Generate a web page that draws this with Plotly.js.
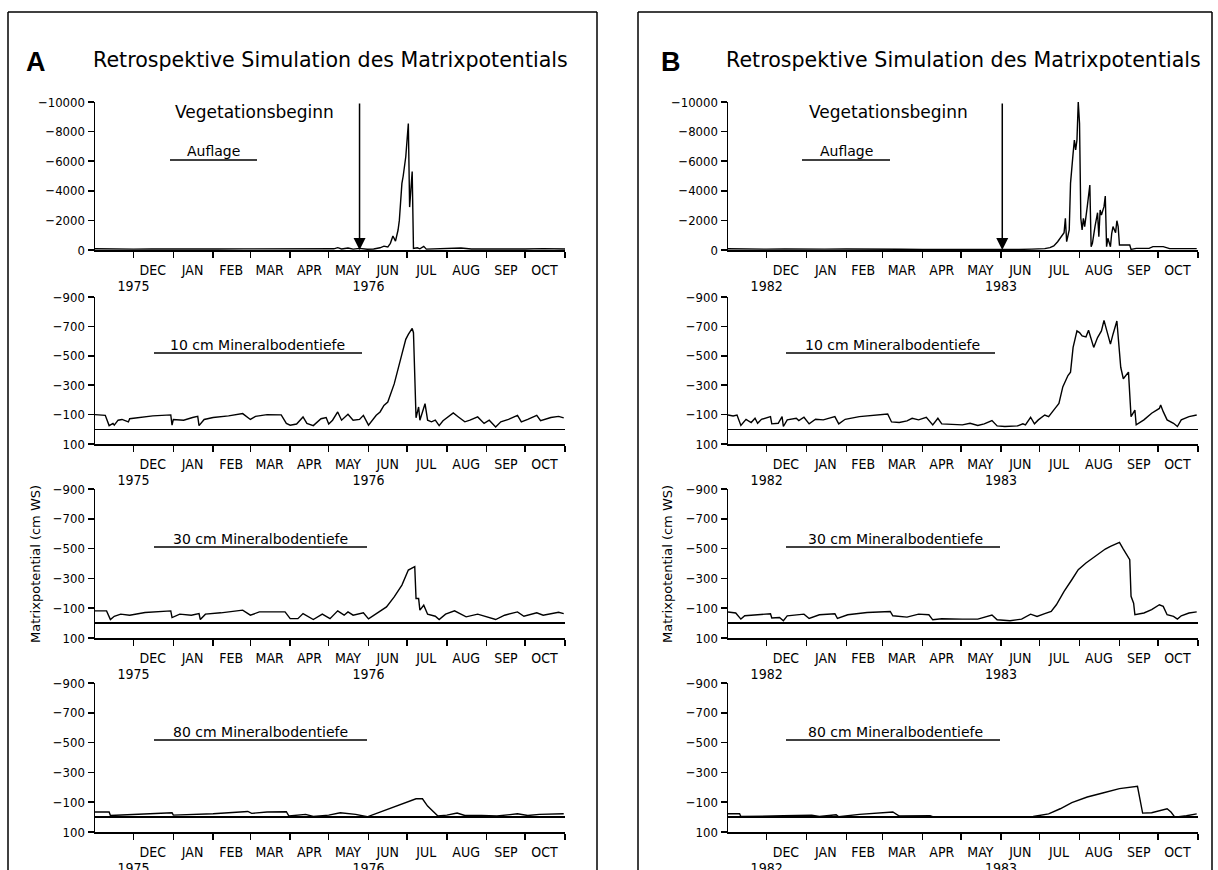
<!DOCTYPE html>
<html><head><meta charset="utf-8">
<script src="https://cdn.plot.ly/plotly-3.0.1.min.js"></script>
<style>html,body{margin:0;padding:0;background:#fff}#chart{width:1218px;height:870px}</style>
</head><body><div id="chart"></div>
<script>
// ---------------- DATA ----------------
const mainTitle = 'Retrospektive Simulation des Matrixpotentials';
const panelLetters = ['A', 'B'];
const depthLabels = ['Auflage', '10 cm Mineralbodentiefe', '30 cm Mineralbodentiefe', '80 cm Mineralbodentiefe'];
const arrowLabel = 'Vegetationsbeginn';
const yTitle = 'Matrixpotential (cm WS)';
const monthLabels = ['DEC','JAN','FEB','MAR','APR','MAY','JUN','JUL','AUG','SEP','OCT'];

const rangeA = ['1975-11-01', '1976-11-01'];
const rangeB = ['1982-11-01', '1983-11-01'];
const monthStartsA = ['1975-12-01','1976-01-01','1976-02-01','1976-03-01','1976-04-01','1976-05-01','1976-06-01','1976-07-01','1976-08-01','1976-09-01','1976-10-01','1976-11-01'];
const monthMidsA = ['1975-12-16','1976-01-16','1976-02-15','1976-03-16','1976-04-16','1976-05-16','1976-06-16','1976-07-16','1976-08-16','1976-09-16','1976-10-16'];
const monthStartsB = ['1982-12-01','1983-01-01','1983-02-01','1983-03-01','1983-04-01','1983-05-01','1983-06-01','1983-07-01','1983-08-01','1983-09-01','1983-10-01','1983-11-01'];
const monthMidsB = ['1982-12-16','1983-01-16','1983-02-14','1983-03-16','1983-04-16','1983-05-16','1983-06-16','1983-07-16','1983-08-16','1983-09-16','1983-10-16'];
const yearTickA = ['1975-12-01', '1976-06-01'];
const yearLabelA = ['1975', '1976'];
const yearTickB = ['1982-12-01', '1983-06-01'];
const yearLabelB = ['1982', '1983'];
const vegStartA = '1976-05-25';
const vegStartB = '1983-06-02';

const yTicksTop = [-10000, -8000, -6000, -4000, -2000, 0];
const yTicksSoil = [-900, -700, -500, -300, -100, 100];

// Panel A, Auflage
const datesA0 = ['1975-11-01','1975-11-12','1975-11-20','1975-12-01','1975-12-15','1976-01-01','1976-01-20','1976-02-05','1976-02-25','1976-03-10','1976-03-28','1976-04-05','1976-04-15','1976-04-25','1976-05-05','1976-05-08','1976-05-11','1976-05-16','1976-05-20','1976-05-25','1976-05-31','1976-06-05','1976-06-10','1976-06-13','1976-06-16','1976-06-18','1976-06-20','1976-06-22','1976-06-24','1976-06-25','1976-06-27','1976-06-28','1976-06-30','1976-07-02','1976-07-03','1976-07-04','1976-07-05','1976-07-06','1976-07-09','1976-07-11','1976-07-14','1976-07-16','1976-07-25','1976-08-05','1976-08-12','1976-08-20','1976-09-01','1976-09-15','1976-10-01','1976-10-15','1976-11-01'];
const valsA0 = [-80,-60,-70,-60,-70,-55,-60,-65,-75,-70,-60,-40,-60,-45,-80,-160,-70,-130,-60,-110,-50,-70,-150,-260,-200,-450,-950,-600,-1350,-2000,-4500,-5000,-6300,-8550,-2900,-4100,-5300,-100,-150,-80,-250,-60,-70,-90,-140,-70,-60,-80,-70,-90,-70];
// Panel A, 10 cm
const datesA1 = ['1975-11-01','1975-11-09','1975-11-12','1975-11-15','1975-11-16','1975-11-19','1975-11-22','1975-11-27','1975-11-28','1975-12-04','1975-12-16','1975-12-30','1975-12-31','1976-01-01','1976-01-09','1976-01-16','1976-01-20','1976-01-21','1976-01-25','1976-02-01','1976-02-13','1976-02-24','1976-03-01','1976-03-05','1976-03-14','1976-03-25','1976-03-29','1976-04-01','1976-04-06','1976-04-11','1976-04-14','1976-04-19','1976-04-25','1976-04-29','1976-05-01','1976-05-04','1976-05-08','1976-05-11','1976-05-16','1976-05-20','1976-05-25','1976-05-28','1976-06-01','1976-06-07','1976-06-10','1976-06-13','1976-06-16','1976-06-21','1976-06-24','1976-06-27','1976-06-30','1976-07-02','1976-07-05','1976-07-06','1976-07-08','1976-07-10','1976-07-11','1976-07-15','1976-07-17','1976-07-20','1976-07-23','1976-07-26','1976-07-29','1976-08-06','1976-08-10','1976-08-15','1976-08-19','1976-08-25','1976-08-30','1976-09-03','1976-09-08','1976-09-12','1976-09-18','1976-09-25','1976-09-28','1976-10-03','1976-10-10','1976-10-13','1976-10-21','1976-10-27','1976-10-31'];
const valsA1 = [-100,-95,-25,-40,-28,-62,-67,-50,-72,-80,-91,-98,-28,-67,-62,-80,-88,-25,-67,-80,-91,-107,-67,-88,-100,-98,-40,-28,-36,-84,-40,-25,-72,-80,-36,-62,-118,-62,-102,-62,-67,-95,-28,-95,-118,-163,-185,-309,-421,-511,-612,-646,-686,-657,-78,-152,-62,-174,-62,-51,-62,-25,-58,-111,-84,-51,-62,-84,-40,-62,-16,-51,-67,-95,-51,-67,-95,-58,-80,-88,-78];
// Panel A, 30 cm
const datesA2 = ['1975-11-01','1975-11-10','1975-11-13','1975-11-16','1975-11-21','1975-11-28','1975-12-10','1975-12-30','1975-12-31','1976-01-06','1976-01-15','1976-01-21','1976-01-22','1976-01-26','1976-02-07','1976-02-24','1976-03-01','1976-03-08','1976-03-28','1976-04-01','1976-04-07','1976-04-11','1976-04-19','1976-04-26','1976-05-02','1976-05-08','1976-05-13','1976-05-16','1976-05-20','1976-05-28','1976-06-01','1976-06-09','1976-06-15','1976-06-21','1976-06-27','1976-07-02','1976-07-07','1976-07-08','1976-07-10','1976-07-11','1976-07-14','1976-07-17','1976-07-23','1976-07-26','1976-07-31','1976-08-07','1976-08-16','1976-08-25','1976-08-31','1976-09-08','1976-09-15','1976-09-25','1976-09-30','1976-10-10','1976-10-15','1976-10-27','1976-10-31'];
const valsA2 = [-82,-82,-24,-46,-60,-53,-71,-82,-37,-60,-53,-64,-24,-60,-69,-87,-53,-75,-75,-30,-30,-64,-24,-60,-30,-82,-53,-75,-53,-69,-28,-75,-109,-176,-255,-356,-379,-165,-165,-87,-120,-60,-46,-24,-60,-82,-42,-60,-46,-24,-53,-75,-46,-69,-53,-73,-64];
// Panel A, 80 cm
const datesA3 = ['1975-11-01','1975-11-12','1975-11-13','1975-12-01','1975-12-16','1975-12-31','1976-01-01','1976-01-21','1976-02-01','1976-02-28','1976-03-02','1976-03-14','1976-03-29','1976-03-31','1976-04-13','1976-04-19','1976-05-01','1976-05-10','1976-05-22','1976-05-31','1976-06-12','1976-06-27','1976-07-08','1976-07-13','1976-07-17','1976-07-25','1976-08-01','1976-08-09','1976-08-15','1976-08-28','1976-09-09','1976-09-25','1976-10-03','1976-10-12','1976-10-21','1976-10-31'];
const valsA3 = [-34,-34,-11,-18,-25,-29,-13,-16,-22,-38,-25,-34,-36,-7,-18,-4,-13,-29,-18,-2,-40,-85,-123,-123,-74,-7,-13,-27,-11,-11,-7,-22,-11,-18,-22,-22];

// Panel B, Auflage
const datesB0 = ['1982-11-01','1982-11-10','1982-11-20','1982-12-01','1982-12-15','1983-01-01','1983-01-15','1983-02-01','1983-02-15','1983-03-05','1983-03-15','1983-04-01','1983-04-15','1983-05-01','1983-05-20','1983-05-30','1983-06-05','1983-06-15','1983-06-25','1983-07-05','1983-07-09','1983-07-12','1983-07-15','1983-07-18','1983-07-19','1983-07-20','1983-07-21','1983-07-22','1983-07-24','1983-07-25','1983-07-27','1983-07-28','1983-07-29','1983-07-30','1983-07-31','1983-08-01','1983-08-02','1983-08-03','1983-08-04','1983-08-05','1983-08-07','1983-08-09','1983-08-10','1983-08-11','1983-08-13','1983-08-15','1983-08-16','1983-08-17','1983-08-18','1983-08-20','1983-08-21','1983-08-22','1983-08-23','1983-08-25','1983-08-26','1983-08-27','1983-08-29','1983-08-30','1983-08-31','1983-09-01','1983-09-02','1983-09-06','1983-09-09','1983-09-10','1983-09-14','1983-09-24','1983-09-27','1983-10-05','1983-10-10','1983-10-31'];
const valsB0 = [-80,-60,-75,-60,-70,-50,-60,-65,-75,-80,-50,-40,-35,-25,-20,-50,-20,-40,-60,-90,-160,-270,-560,-950,-1080,-1170,-2140,-560,-1350,-4500,-6530,-7430,-6760,-7430,-10000,-8560,-2140,-1350,-2140,-1580,-2930,-4390,-225,-450,-1580,-2520,-900,-2700,-2360,-2930,-3650,-225,-790,-225,-1130,-1580,-1170,-1980,-1580,-340,-340,-315,-340,-45,-110,-110,-225,-225,-90,-90];
// Panel B, 10 cm
const datesB1 = ['1982-11-01','1982-11-05','1982-11-08','1982-11-11','1982-11-15','1982-11-19','1982-11-22','1982-11-24','1982-11-27','1982-12-04','1982-12-05','1982-12-10','1982-12-13','1982-12-14','1982-12-17','1982-12-24','1982-12-26','1982-12-30','1983-01-03','1983-01-08','1983-01-14','1983-01-20','1983-01-23','1983-01-26','1983-01-31','1983-02-11','1983-02-23','1983-03-05','1983-03-08','1983-03-14','1983-03-20','1983-03-24','1983-03-29','1983-04-04','1983-04-09','1983-04-13','1983-04-16','1983-04-26','1983-05-02','1983-05-08','1983-05-14','1983-05-19','1983-05-25','1983-05-29','1983-06-04','1983-06-14','1983-06-18','1983-06-20','1983-06-24','1983-06-27','1983-06-30','1983-07-05','1983-07-08','1983-07-13','1983-07-16','1983-07-19','1983-07-23','1983-07-25','1983-07-27','1983-07-30','1983-08-01','1983-08-03','1983-08-06','1983-08-08','1983-08-12','1983-08-15','1983-08-18','1983-08-20','1983-08-22','1983-08-25','1983-08-27','1983-08-30','1983-09-02','1983-09-04','1983-09-08','1983-09-10','1983-09-13','1983-09-14','1983-09-20','1983-09-26','1983-10-02','1983-10-03','1983-10-05','1983-10-08','1983-10-13','1983-10-16','1983-10-19','1983-10-25','1983-10-31'];
const valsB1 = [-97,-91,-97,-26,-68,-46,-75,-41,-68,-86,-37,-41,-86,-19,-64,-75,-59,-82,-37,-68,-64,-82,-86,-37,-68,-86,-97,-104,-50,-46,-57,-75,-64,-82,-30,-75,-37,-35,-30,-41,-26,-37,-59,-23,-19,-23,-37,-30,-82,-37,-64,-97,-86,-142,-176,-288,-366,-389,-557,-669,-658,-635,-629,-674,-557,-624,-669,-741,-669,-579,-647,-737,-422,-344,-389,-86,-131,-30,-64,-109,-142,-165,-120,-64,-41,-19,-64,-86,-97];
// Panel B, 30 cm
const datesB2 = ['1982-11-01','1982-11-07','1982-11-11','1982-11-14','1982-11-24','1982-12-04','1982-12-05','1982-12-11','1982-12-14','1982-12-17','1982-12-30','1983-01-03','1983-01-11','1983-01-23','1983-01-25','1983-02-02','1983-02-17','1983-03-07','1983-03-09','1983-03-20','1983-03-29','1983-04-06','1983-04-09','1983-04-16','1983-05-02','1983-05-14','1983-05-25','1983-05-29','1983-06-08','1983-06-17','1983-06-24','1983-06-29','1983-07-05','1983-07-10','1983-07-14','1983-07-20','1983-07-26','1983-07-31','1983-08-06','1983-08-13','1983-08-21','1983-08-25','1983-09-01','1983-09-04','1983-09-09','1983-09-10','1983-09-12','1983-09-13','1983-09-20','1983-09-26','1983-10-02','1983-10-05','1983-10-08','1983-10-13','1983-10-16','1983-10-19','1983-10-25','1983-10-31'];
const valsB2 = [-75,-68,-27,-49,-56,-63,-34,-38,-16,-49,-60,-31,-56,-63,-31,-56,-71,-78,-49,-40,-60,-56,-22,-29,-27,-27,-54,-22,-16,-27,-60,-45,-63,-78,-123,-213,-291,-359,-403,-448,-497,-515,-542,-497,-426,-180,-134,-56,-68,-90,-123,-112,-56,-45,-27,-49,-68,-75];
// Panel B, 80 cm
const datesB3 = ['1982-11-01','1982-11-10','1982-11-11','1982-11-30','1982-12-14','1983-01-05','1983-01-11','1983-01-24','1983-01-26','1983-02-11','1983-02-23','1983-03-09','1983-03-14','1983-03-26','1983-04-07','1983-04-10','1983-05-26','1983-06-26','1983-07-08','1983-07-17','1983-07-26','1983-08-07','1983-08-19','1983-09-01','1983-09-15','1983-09-16','1983-09-19','1983-09-26','1983-10-08','1983-10-11','1983-10-14','1983-10-23','1983-10-31'];
const valsB3 = [-22,-22,-4,-9,-9,-13,-4,-16,-2,-18,-27,-34,-7,-9,-9,0,0,-4,-22,-56,-97,-135,-162,-191,-207,-157,-27,-29,-56,-34,0,-9,-22];

// ---------------- LAYOUT ----------------
const W = 1218, H = 870;
const PX = x => x / W;
const PY = y => 1 - y / H;
const TXT = 'DejaVu Sans, Liberation Sans, sans-serif';
const TICK = '"Liberation Sans Narrow", "DejaVu Sans Condensed", "Liberation Sans", Arial, sans-serif';
const BOLD = '"Liberation Sans", Arial, sans-serif';

const panels = [
  {letter: panelLetters[0], xpx: [95, 565], range: rangeA, starts: monthStartsA, mids: monthMidsA,
   yt: yearTickA, yl: yearLabelA, veg: vegStartA,
   series: [[datesA0, valsA0], [datesA1, valsA1], [datesA2, valsA2], [datesA3, valsA3]],
   border: [8, 597], letterPos: [36, 62], titleX: 330, ytitleX: 35,
   labelX: [213, 257, 260, 260], vegX: 254, lines: [[170, 257], [154, 362], [154, 367], [154, 367]]},
  {letter: panelLetters[1], xpx: [728, 1198], range: rangeB, starts: monthStartsB, mids: monthMidsB,
   yt: yearTickB, yl: yearLabelB, veg: vegStartB,
   series: [[datesB0, valsB0], [datesB1, valsB1], [datesB2, valsB2], [datesB3, valsB3]],
   border: [638, 1212], letterPos: [671, 62], titleX: 963, ytitleX: 667,
   labelX: [846, 892, 895, 895], vegX: 888, lines: [[802, 890], [786, 995], [786, 1000], [786, 1000]]}
];
const rowsPx = [[102, 250], [297, 444], [489, 638], [683, 832]];
const labelY = [151, 345, 539, 732];
const lineY = [160, 353, 547, 740];

const layout = {
  width: W, height: H, margin: {l: 0, r: 0, t: 0, b: 0},
  paper_bgcolor: '#fff', plot_bgcolor: '#fff', showlegend: false,
  annotations: [], shapes: []
};
const data = [];
const blk = '#000';

panels.forEach((p, pi) => {
  p.series.forEach((s, ri) => {
    const n = pi * 4 + ri + 1;
    const xid = n === 1 ? 'x' : 'x' + n;
    const yid = n === 1 ? 'y' : 'y' + n;
    const ov = 8 + n;
    const xd = [PX(p.xpx[0]), PX(p.xpx[1])];
    const yd = [PY(rowsPx[ri][1]), PY(rowsPx[ri][0])];
    layout['xaxis' + (n === 1 ? '' : n)] = {
      domain: xd, anchor: yid, type: 'date', range: p.range,
      showgrid: false, zeroline: false, showline: true, linecolor: blk, linewidth: 1.5,
      tickmode: 'array', tickvals: p.mids, ticktext: monthLabels,
      ticks: 'outside', ticklen: 7, tickcolor: 'rgba(0,0,0,0)',
      tickfont: {family: TICK, size: 14, color: blk},
      minor: {tickmode: 'array', tickvals: p.starts, ticks: 'outside', ticklen: 6, tickwidth: 1.5, tickcolor: blk, showgrid: false},
      fixedrange: true
    };
    layout['xaxis' + ov] = {
      overlaying: xid, anchor: yid, type: 'date', range: p.range,
      showgrid: false, zeroline: false, showline: false,
      tickmode: 'array', tickvals: p.yt, ticktext: p.yl,
      ticks: 'outside', ticklen: 23, tickcolor: 'rgba(0,0,0,0)',
      tickfont: {family: TICK, size: 14, color: blk}, fixedrange: true
    };
    const top = ri === 0;
    layout['yaxis' + (n === 1 ? '' : n)] = {
      domain: yd, anchor: xid,
      range: top ? [0, -10000] : [100, -900],
      tickmode: 'array', tickvals: top ? yTicksTop : yTicksSoil,
      tickformat: 'd',
      showgrid: false, showline: true, linecolor: blk, linewidth: 1.5,
      ticks: 'outside', ticklen: 6, tickwidth: 1.5, tickcolor: blk,
      zeroline: !top, zerolinecolor: blk, zerolinewidth: 1.5,
      tickfont: {family: TICK, size: 13, color: blk}, fixedrange: true
    };
    data.push({type: 'scatter', mode: 'lines', x: s[0], y: s[1], xaxis: xid, yaxis: yid,
      line: {color: blk, width: 1.4}, hoverinfo: 'skip'});
    // overlay axis needs a (blank) trace to be registered
    data.push({type: 'scatter', mode: 'lines', x: [], y: [], xaxis: 'x' + ov, yaxis: yid, hoverinfo: 'skip', showlegend: false});

    layout.annotations.push({xref: 'paper', yref: 'paper', x: PX(p.labelX[ri]), y: PY(labelY[ri]),
      text: depthLabels[ri], showarrow: false, xanchor: 'center', yanchor: 'middle',
      font: {family: TXT, size: 14, color: blk}});
    layout.shapes.push({type: 'line', xref: 'paper', yref: 'paper', x0: PX(p.lines[ri][0]), x1: PX(p.lines[ri][1]),
      y0: PY(lineY[ri]), y1: PY(lineY[ri]), line: {color: blk, width: 1.5}});
    if (top) {
      layout.annotations.push({xref: xid, yref: yid, axref: xid, ayref: yid,
        x: p.veg, y: 0, ax: p.veg, ay: -10000, text: '', showarrow: true,
        arrowhead: 2, arrowsize: 1.6, arrowwidth: 1.5, arrowcolor: blk, standoff: 0});
      layout.annotations.push({xref: 'paper', yref: 'paper', x: PX(p.vegX), y: PY(112),
        text: arrowLabel, showarrow: false, xanchor: 'center', yanchor: 'middle',
        font: {family: TXT, size: 17, color: blk}});
    }
  });
  layout.annotations.push({xref: 'paper', yref: 'paper', x: PX(p.letterPos[0]), y: PY(p.letterPos[1]),
    text: '<b>' + p.letter + '</b>', showarrow: false, xanchor: 'center', yanchor: 'middle',
    font: {family: BOLD, size: 27, color: blk}});
  layout.annotations.push({xref: 'paper', yref: 'paper', x: PX(p.titleX), y: PY(60),
    text: mainTitle, showarrow: false, xanchor: 'center', yanchor: 'middle',
    font: {family: TXT, size: 20.6, color: blk}});
  layout.annotations.push({xref: 'paper', yref: 'paper', x: PX(p.ytitleX), y: PY(564),
    text: yTitle, showarrow: false, textangle: -90, xanchor: 'center', yanchor: 'middle',
    font: {family: TXT, size: 13, color: blk}});
  const [bl, br] = p.border;
  [[bl, 12, bl, H], [bl, 12, br, 12], [br, 12, br, H]].forEach(c => {
    layout.shapes.push({type: 'line', xref: 'paper', yref: 'paper', x0: PX(c[0]), y0: PY(c[1]), x1: PX(c[2]), y1: PY(c[3]),
      line: {color: blk, width: 1.5}});
  });
});

Plotly.newPlot('chart', data, layout, {staticPlot: true, displayModeBar: false});
</script>
</body></html>
